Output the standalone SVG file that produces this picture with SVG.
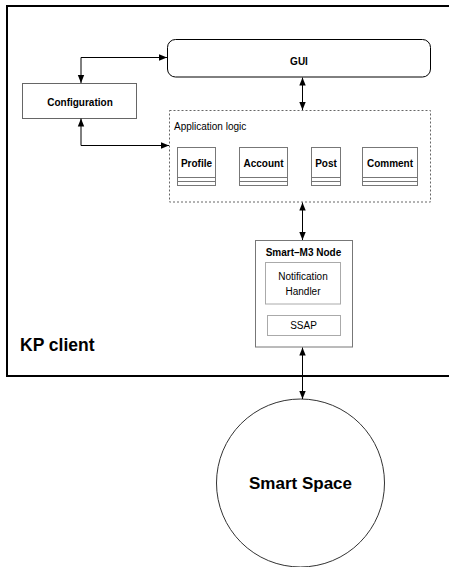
<svg xmlns="http://www.w3.org/2000/svg" width="449" height="567" viewBox="0 0 449 567">
<defs>
<marker id="ah" viewBox="0 0 10 10" refX="10" refY="5" markerWidth="8" markerHeight="8" markerUnits="userSpaceOnUse" orient="auto-start-reverse">
<path d="M0,1 L10,5 L0,9 z" fill="#000"/>
</marker>
<style>
text{font-family:"Liberation Sans",Arial,sans-serif;fill:#000}
.b{font-weight:bold}
.c{text-anchor:middle}
.cls{fill:#fff;stroke:#777;stroke-width:1}
.conn{fill:none;stroke:#000;stroke-width:1;marker-start:url(#ah);marker-end:url(#ah)}
</style>
</defs>
<rect width="449" height="567" fill="#fff"/>
<g id="kpclient">
<path d="M7,460 M460,6 L7,6 L7,376 L460,376" fill="none" stroke="#000" stroke-width="2"/>
<text x="20" y="351" class="b" font-size="17.5">KP client</text>
</g>
<g id="gui">
<rect x="167.5" y="39.5" width="263" height="37.5" rx="8" fill="#fff" stroke="#000"/>
<text x="299" y="65" class="b c" font-size="10">GUI</text>
</g>
<g id="configuration">
<rect x="22.5" y="83.5" width="114" height="35" fill="#fff" stroke="#666"/>
<text x="80" y="106" class="b c" font-size="10">Configuration</text>
</g>
<g id="applogic">
<rect x="169.5" y="110.5" width="261" height="91.5" fill="#fff" stroke="#666" stroke-dasharray="2,2"/>
<text x="174" y="130" font-size="10">Application logic</text>
</g>
<g id="profile">
<rect x="177.5" y="147.5" width="38" height="38" class="cls"/>
<path d="M177.5,177.5 H215.5 M177.5,181.5 H215.5" stroke="#777"/>
<text x="196.5" y="167" class="b c" font-size="10">Profile</text>
</g>
<g id="account">
<rect x="239.5" y="147.5" width="48" height="38" class="cls"/>
<path d="M239.5,177.5 H287.5 M239.5,181.5 H287.5" stroke="#777"/>
<text x="263.5" y="167" class="b c" font-size="10">Account</text>
</g>
<g id="post">
<rect x="311.5" y="147.5" width="29" height="38" class="cls"/>
<path d="M311.5,177.5 H340.5 M311.5,181.5 H340.5" stroke="#777"/>
<text x="326" y="167" class="b c" font-size="10">Post</text>
</g>
<g id="comment">
<rect x="362.5" y="147.5" width="55" height="38" class="cls"/>
<path d="M362.5,177.5 H417.5 M362.5,181.5 H417.5" stroke="#777"/>
<text x="390" y="167" class="b c" font-size="10">Comment</text>
</g>
<g id="smartm3">
<rect x="255.5" y="240.5" width="97" height="106.5" fill="#fff" stroke="#777"/>
<text x="303.5" y="256" class="b c" font-size="10">Smart–M3 Node</text>
<rect x="265.5" y="262.5" width="75" height="41.5" fill="#fff" stroke="#aaa"/>
<text x="303" y="280" class="c" font-size="10">Notification</text>
<text x="303" y="294.5" class="c" font-size="10">Handler</text>
<rect x="267.5" y="315.5" width="73" height="20" fill="#fff" stroke="#aaa"/>
<text x="303.5" y="329" class="c" font-size="10">SSAP</text>
</g>
<g id="smartspace">
<circle cx="300.5" cy="483" r="84" fill="#fff" stroke="#333"/>
<text x="300.5" y="489" class="b c" font-size="17">Smart Space</text>
</g>
<g id="connectors">
<path class="conn" d="M81,83 V57.5 H167"/>
<path class="conn" d="M81,118.5 V145.5 H169"/>
<path class="conn" d="M302.5,77.5 V110"/>
<path class="conn" d="M302.5,202.5 V240"/>
<path class="conn" d="M302.5,347.5 V399"/>
</g>
</svg>
